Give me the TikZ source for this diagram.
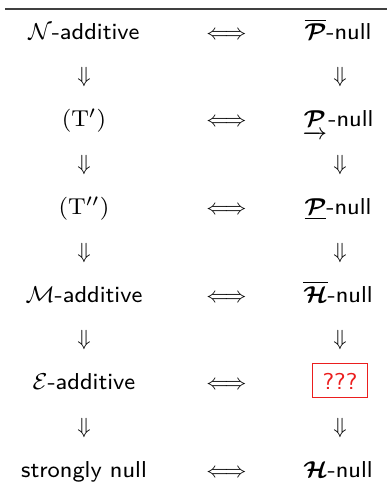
\documentclass[tikz,border=0pt]{standalone}
\usepackage{amsmath}

\definecolor{qRed}{RGB}{235,30,30}

\tikzset{
  entry/.style={anchor=base, inner sep=0pt, scale=1.4375, font=\fontsize{8}{10}\selectfont\sffamily},
  sym/.style={anchor=base, inner sep=0pt, font=\fontsize{11}{13}\selectfont},
  openq/.style={entry, draw=qRed, text=qRed, line width=0.5pt,
    inner xsep=3.4pt, inner ysep=2.7pt, text height=6.4pt, text depth=0pt}
}

\begin{document}
\begin{tikzpicture}[x=0.5pt, y=-0.5pt]

  \useasboundingbox (0,0) rectangle (387,486);

  % ---- rule ----
  \coordinate (ruleL) at (5,9);
  \coordinate (ruleR) at (387,9);
  \draw[black!75, line width=0.75pt] (ruleL) -- (ruleR);

  % ---- left column ----
  \node[entry] (nAdd)   at (84,39.5)  {$\mathcal{N}$-additive};
  \node[entry] (tOne)   at (84,127)   {$(\mathrm{T}')$};
  \node[entry] (tTwo)   at (84,214.5) {$(\mathrm{T}'')$};
  \node[entry] (mAdd)   at (84,302)   {$\mathcal{M}$-additive};
  \node[entry] (eAdd)   at (84,389.5) {$\mathcal{E}$-additive};
  \node[entry] (strong) at (84,477)   {strongly null};

  % ---- right column ----
  \node[entry] (pBar)   at (338,39.5)  {$\overline{\boldsymbol{\mathcal{P}}}$-null};
  \node[entry] (pArr)   at (338,127)   {$\underrightarrow{\boldsymbol{\mathcal{P}}}\mkern1mu$-null};
  \node[entry] (pUnd)   at (338,214.5) {$\underline{\boldsymbol{\mathcal{P}}}$-null};
  \node[entry] (hBar)   at (338,302)   {$\overline{\boldsymbol{\mathcal{H}}}$-null};
  \node[openq] (unkn)   at (340,389.5) {???};
  \node[entry] (hNull)  at (338,477)   {$\boldsymbol{\mathcal{H}}$-null};

  % ---- equivalences ----
  \node[sym] (iffA) at (226.5,39.5)  {$\Longleftrightarrow$};
  \node[sym] (iffB) at (226.5,127)   {$\Longleftrightarrow$};
  \node[sym] (iffC) at (226.5,214.5) {$\Longleftrightarrow$};
  \node[sym] (iffD) at (226.5,302)   {$\Longleftrightarrow$};
  \node[sym] (iffE) at (226.5,389.5) {$\Longleftrightarrow$};
  \node[sym] (iffF) at (226.5,477)   {$\Longleftrightarrow$};

  % ---- implications ----
  \node[sym] (downLA) at (84,83)    {$\Downarrow$};
  \node[sym] (downLB) at (84,170.5) {$\Downarrow$};
  \node[sym] (downLC) at (84,258)   {$\Downarrow$};
  \node[sym] (downLD) at (84,345.5) {$\Downarrow$};
  \node[sym] (downLE) at (84,433)   {$\Downarrow$};
  \node[sym] (downRA) at (340,83)    {$\Downarrow$};
  \node[sym] (downRB) at (340,170.5) {$\Downarrow$};
  \node[sym] (downRC) at (340,258)   {$\Downarrow$};
  \node[sym] (downRD) at (340,345.5) {$\Downarrow$};
  \node[sym] (downRE) at (340,433)   {$\Downarrow$};

\end{tikzpicture}
\end{document}
